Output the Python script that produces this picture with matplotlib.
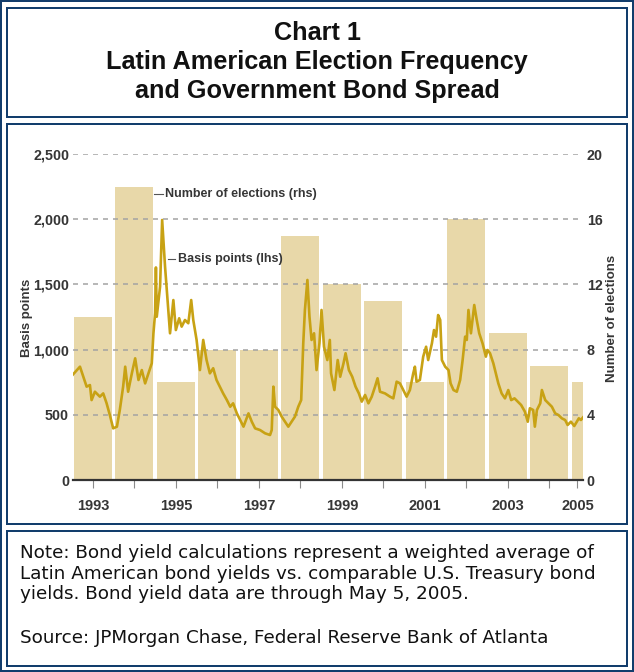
import matplotlib
matplotlib.use("Agg")
import matplotlib.pyplot as plt
from matplotlib import font_manager as fm
from matplotlib.patches import Rectangle
from matplotlib.lines import Line2D

# ---- data -------------------------------------------------------------
years = [1993, 1994, 1995, 1996, 1997, 1998, 1999, 2000, 2001, 2002, 2003, 2004, 2005]
elections = [10, 18, 6, 8, 8, 15, 12, 11, 6, 16, 9, 7, 6]
year_labels = ["1993", "", "1995", "", "1997", "", "1999", "", "2001", "", "2003", "", "2005"]
data_end = 2005 + 124 / 365  # bond data run through May 5, 2005

spread_t = [
    1993.00, 1993.18, 1993.26, 1993.34, 1993.42, 1993.46, 1993.54, 1993.66, 1993.74, 1993.82, 1993.90, 1993.98,
    1994.07, 1994.14, 1994.22, 1994.27, 1994.34, 1994.43, 1994.51, 1994.59, 1994.67, 1994.75, 1994.83, 1994.91, 1994.95, 1994.99,
    1995.01, 1995.03, 1995.11, 1995.16, 1995.23, 1995.29, 1995.35, 1995.43, 1995.49, 1995.57, 1995.63, 1995.71, 1995.79, 1995.86, 1995.91, 1995.99,
    1996.07, 1996.15, 1996.23, 1996.31, 1996.39, 1996.47, 1996.55, 1996.63, 1996.72, 1996.80, 1996.87, 1996.96,
    1997.04, 1997.12, 1997.24, 1997.32, 1997.40, 1997.52, 1997.64, 1997.76, 1997.80, 1997.84, 1997.88, 1997.96,
    1998.04, 1998.12, 1998.20, 1998.28, 1998.36, 1998.44, 1998.51, 1998.56, 1998.60, 1998.66, 1998.71, 1998.76, 1998.82, 1998.88, 1998.95,
    1999.00, 1999.06, 1999.14, 1999.20, 1999.23, 1999.31, 1999.39, 1999.45, 1999.53, 1999.58, 1999.66, 1999.74, 1999.82, 1999.90, 1999.97,
    2000.05, 2000.13, 2000.21, 2000.29, 2000.35, 2000.41, 2000.53, 2000.65, 2000.73, 2000.81, 2000.89, 2000.97,
    2001.05, 2001.13, 2001.21, 2001.25, 2001.29, 2001.37, 2001.45, 2001.52, 2001.57, 2001.66, 2001.71, 2001.76, 2001.81, 2001.86, 2001.90, 2001.98,
    2002.06, 2002.11, 2002.18, 2002.26, 2002.34, 2002.40, 2002.46, 2002.50, 2002.54, 2002.60, 2002.68, 2002.74, 2002.80, 2002.88, 2002.96,
    2003.00, 2003.06, 2003.14, 2003.26, 2003.34, 2003.42, 2003.50, 2003.57, 2003.65, 2003.73, 2003.81, 2003.90, 2003.97,
    2004.02, 2004.10, 2004.14, 2004.19, 2004.27, 2004.31, 2004.39, 2004.47, 2004.55, 2004.63, 2004.71, 2004.79, 2004.87, 2004.93,
    2005.01, 2005.09, 2005.15, 2005.20, 2005.25, 2005.30,
]
spread_bp = [
    805, 869, 792, 716, 728, 613, 677, 639, 664, 590, 498, 396,
    409, 537, 716, 869, 677, 818, 933, 767, 843, 741, 818, 895, 1125, 1280,
    1630, 1252, 1483, 1994, 1636, 1380, 1125, 1380, 1150, 1240, 1176, 1227, 1202, 1380, 1227, 1074,
    843, 1074, 920, 818, 857, 767, 716, 664, 613, 562, 588, 511,
    460, 409, 511, 447, 396, 383, 358, 345, 383, 716, 562, 537,
    486, 447, 409, 447, 486, 562, 613, 1048, 1304, 1534, 1252, 1074, 1125, 843, 1048,
    1304, 1022, 920, 1074, 818, 690, 920, 792, 895, 972, 843, 792, 716, 664, 601,
    652, 588, 639, 716, 780, 677, 664, 639, 626, 754, 741, 690,
    639, 690, 818, 869, 754, 767, 946, 1022, 920, 1048, 1150, 1099, 1265, 1227, 920, 869,
    843, 741, 690, 677, 767, 920, 1099, 1074, 1304, 1125, 1342, 1227, 1125, 1048, 946,
    997, 972, 895, 741, 664, 626, 690, 613, 626, 601, 575, 524, 447,
    550, 537, 409, 537, 588, 690, 613, 588, 562, 511, 498, 473, 460, 422,
    447, 414, 447, 473, 460, 480,
]
assert len(spread_t) == len(spread_bp)

bp_ticks = [0, 500, 1000, 1500, 2000, 2500]
election_ticks = [0, 4, 8, 12, 16, 20]

# ---- styling ----------------------------------------------------------
_installed = {f.name for f in fm.fontManager.ttflist}
SANS = "Liberation Sans" if "Liberation Sans" in _installed else "DejaVu Sans"
NAVY = "#123d6c"
BAR = "#e8d8a9"
LINE = "#c8a214"
INK = "#363636"
plt.rcParams["lines.scale_dashes"] = False

W, H = 634, 672
fig = plt.figure(figsize=(W / 100, H / 100), dpi=100)
fig.patch.set_facecolor("white")


def fx(px):
    return px / W


def fy(py):
    return 1 - py / H


def frame(x0, y0, x1, y1, lw_px=2.0):
    fig.patches.append(Rectangle((fx(x0), fy(y1)), fx(x1) - fx(x0), fy(y0) - fy(y1),
                                 transform=fig.transFigure, fill=False,
                                 edgecolor=NAVY, linewidth=lw_px * 0.72))


frame(1, 1, 633, 671)
frame(7, 8, 627, 117)
frame(7, 124, 627, 524)
frame(7, 531, 627, 666)

# ---- title ------------------------------------------------------------
for text, py in [("Chart 1", 33), ("Latin American Election Frequency", 62),
                 ("and Government Bond Spread", 91)]:
    fig.text(0.5, fy(py), text, ha="center", va="center", fontsize=18.2,
             fontweight="bold", family=SANS, color="#111111")

# ---- chart ------------------------------------------------------------
x_left_px, x_right_px = 72.5, 583.4
ax = fig.add_axes([fx(x_left_px), fy(480), (x_right_px - x_left_px) / W, 326 / H])
ax2 = ax.twinx()
ax.set_zorder(2)
ax2.set_zorder(1)
ax.patch.set_visible(False)

bar_left = [y + 0.035 for y in years]
bar_width = [min(0.915, data_end - l - 0.04) for l in bar_left]
bar_center = [l + w / 2 for l, w in zip(bar_left, bar_width)]

ax2.bar(bar_left, elections, width=bar_width, align="edge", color=BAR, linewidth=0)
ax2.set_ylim(0, 20)
ax2.set_yticks(election_ticks)
ax2.set_yticklabels([str(v) for v in election_ticks])

ax.plot(spread_t, spread_bp, color=LINE, lw=1.9, solid_joinstyle="round", zorder=3)
ax.set_xlim(1993.0, 2005.31)
ax.set_ylim(0, 2500)
ax.set_yticks(bp_ticks)
ax.set_yticklabels([f"{v:,}" for v in bp_ticks])
ax.set_xticks(bar_center)
ax.set_xticklabels(year_labels)

ax.set_axisbelow(True)
ax.yaxis.grid(True, color="#a3a3a3", linewidth=1.1, linestyle=(0, (3.6, 3.6)))

for a in (ax, ax2):
    for s in ("left", "right", "top", "bottom"):
        a.spines[s].set_visible(False)
ax.spines["bottom"].set_visible(True)
ax.spines["bottom"].set_color("#333333")
ax.spines["bottom"].set_linewidth(1.6)
ax.spines["bottom"].set_zorder(4)

ax.tick_params(axis="x", direction="out", length=5.8, width=0.8, color="#8a8a8a",
               pad=8.0, labelsize=10.5, labelcolor=INK)
ax.tick_params(axis="y", length=0, pad=2.5, labelsize=10.3, labelcolor=INK)
ax2.tick_params(axis="y", length=0, pad=2.5, labelsize=10.3, labelcolor=INK)
for lab in ax.get_xticklabels() + ax.get_yticklabels() + ax2.get_yticklabels():
    lab.set_fontfamily(SANS)
    lab.set_fontweight("bold")

fig.text(fx(27), fy(318), "Basis points", rotation=90, ha="center", va="center",
         fontsize=9.5, family=SANS, weight="bold", color=INK)
fig.text(fx(612), fy(318), "Number of elections", rotation=90, ha="center", va="center",
         fontsize=9.5, family=SANS, weight="bold", color=INK)

# series call-outs with short leader lines
ax.add_line(Line2D([1994.96, 1995.18], [2193, 2193], color="#555555", lw=0.8, clip_on=False))
ax.text(1995.23, 2193, "Number of elections (rhs)", ha="left", va="center", fontsize=9.0,
        family=SANS, weight="bold", color=INK)
ax.add_line(Line2D([1995.30, 1995.47], [1695, 1695], color="#555555", lw=0.8, clip_on=False))
ax.text(1995.54, 1695, "Basis points (lhs)", ha="left", va="center", fontsize=9.0,
        family=SANS, weight="bold", color=INK)

# ---- note -------------------------------------------------------------
note_lines = [
    ("Note: Bond yield calculations represent a weighted average of", 553),
    ("Latin American bond yields vs. comparable U.S. Treasury bond", 574),
    ("yields. Bond yield data are through May 5, 2005.", 594),
    ("Source: JPMorgan Chase, Federal Reserve Bank of Atlanta", 638),
]
for text, py in note_lines:
    fig.text(fx(20), fy(py), text, ha="left", va="center", fontsize=13.2,
             family="DejaVu Sans", color="#111111")

fig.savefig("out.png", dpi=100)
